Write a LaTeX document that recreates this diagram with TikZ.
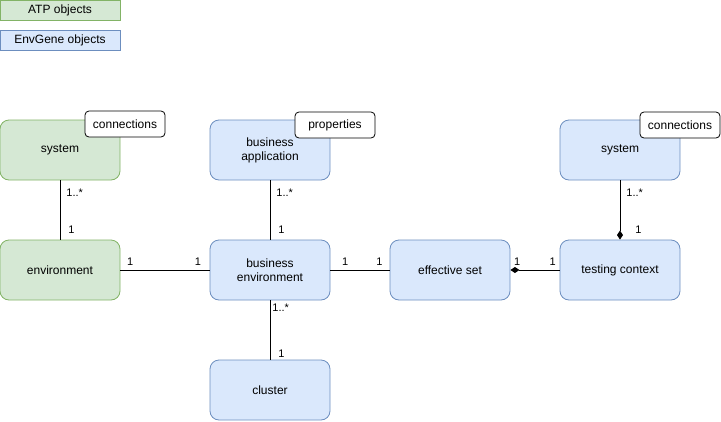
\documentclass[tikz,border=0pt]{standalone}
\usepackage{fontspec}
\setmainfont{Liberation Sans}
\usetikzlibrary{arrows.meta}
\definecolor{atpfill}{HTML}{D5E8D4}
\definecolor{atpline}{HTML}{82B366}
\definecolor{envfill}{HTML}{DAE8FC}
\definecolor{envline}{HTML}{6C8EBF}
\begin{document}
\begin{tikzpicture}[x=1pt,y=-1pt,
    obj/.style={rounded corners=9pt,line width=0.8pt,minimum width=120pt,minimum height=60pt,align=center,font=\fontsize{12}{14}\selectfont},
    atp/.style={obj,draw=atpline,fill=atpfill},
    env/.style={obj,draw=envline,fill=envfill},
    legend/.style={line width=0.8pt,minimum width=120pt,minimum height=20pt,font=\fontsize{12}{14}\selectfont},
    tag/.style={draw,rounded corners=4pt,line width=0.8pt,fill=white,minimum width=80pt,minimum height=26pt,font=\fontsize{12}{14}\selectfont},
    link/.style={line width=0.9pt},
    mult/.style={font=\fontsize{11}{13}\selectfont,inner sep=1pt},
    comp/.style={link,-{Diamond[length=9pt,width=6pt]}}]
  \useasboundingbox (0,0) rectangle (721,421);
  % legend
  \node[legend,draw=atpline,fill=atpfill] (atpkey) at (60,10) {ATP objects};
  \node[legend,draw=envline,fill=envfill] (envkey) at (60,40) {EnvGene objects};
  % objects
  \node[atp] (atpsys) at (60,150) {system};
  \node[atp] (atpenv) at (60,270) {environment};
  \node[env] (bapp) at (270,150) {business\\application};
  \node[env] (benv) at (270,270) {business\\environment};
  \node[env] (clus) at (270,390) {cluster};
  \node[env] (effset) at (450,270) {effective set};
  \node[env] (tctx) at (620,270) {testing context};
  \node[env] (envsys) at (620,150) {system};
  % tags
  \node[tag] (atpconn) at (125,124) {connections};
  \node[tag] (bprops) at (335,125) {properties};
  \node[tag] (envconn) at (680,125) {connections};
  % links
  \draw[link] (atpsys) -- (atpenv)
    node[mult,pos=0.2,right=5pt] {1..*} node[mult,pos=0.83,right=7pt] {1};
  \draw[link] (bapp) -- (benv)
    node[mult,pos=0.2,right=5pt] {1..*} node[mult,pos=0.83,right=7pt] {1};
  \draw[link] (benv) -- (clus)
    node[mult,pos=0.13,right=1pt] {1..*} node[mult,pos=0.9,right=7pt] {1};
  \draw[link] (atpenv) -- (benv)
    node[mult,pos=0.11,above=3pt] {1} node[mult,pos=0.87,above=3pt] {1};
  \draw[link] (benv) -- (effset)
    node[mult,pos=0.25,above=3pt] {1} node[mult,pos=0.83,above=3pt] {1};
  \draw[comp] (tctx) -- (effset)
    node[mult,pos=0.14,above=3pt] {1} node[mult,pos=0.86,above=3pt] {1};
  \draw[comp] (envsys) -- (tctx)
    node[mult,pos=0.2,right=5pt] {1..*} node[mult,pos=0.83,right=14pt] {1};
\end{tikzpicture}
\end{document}
